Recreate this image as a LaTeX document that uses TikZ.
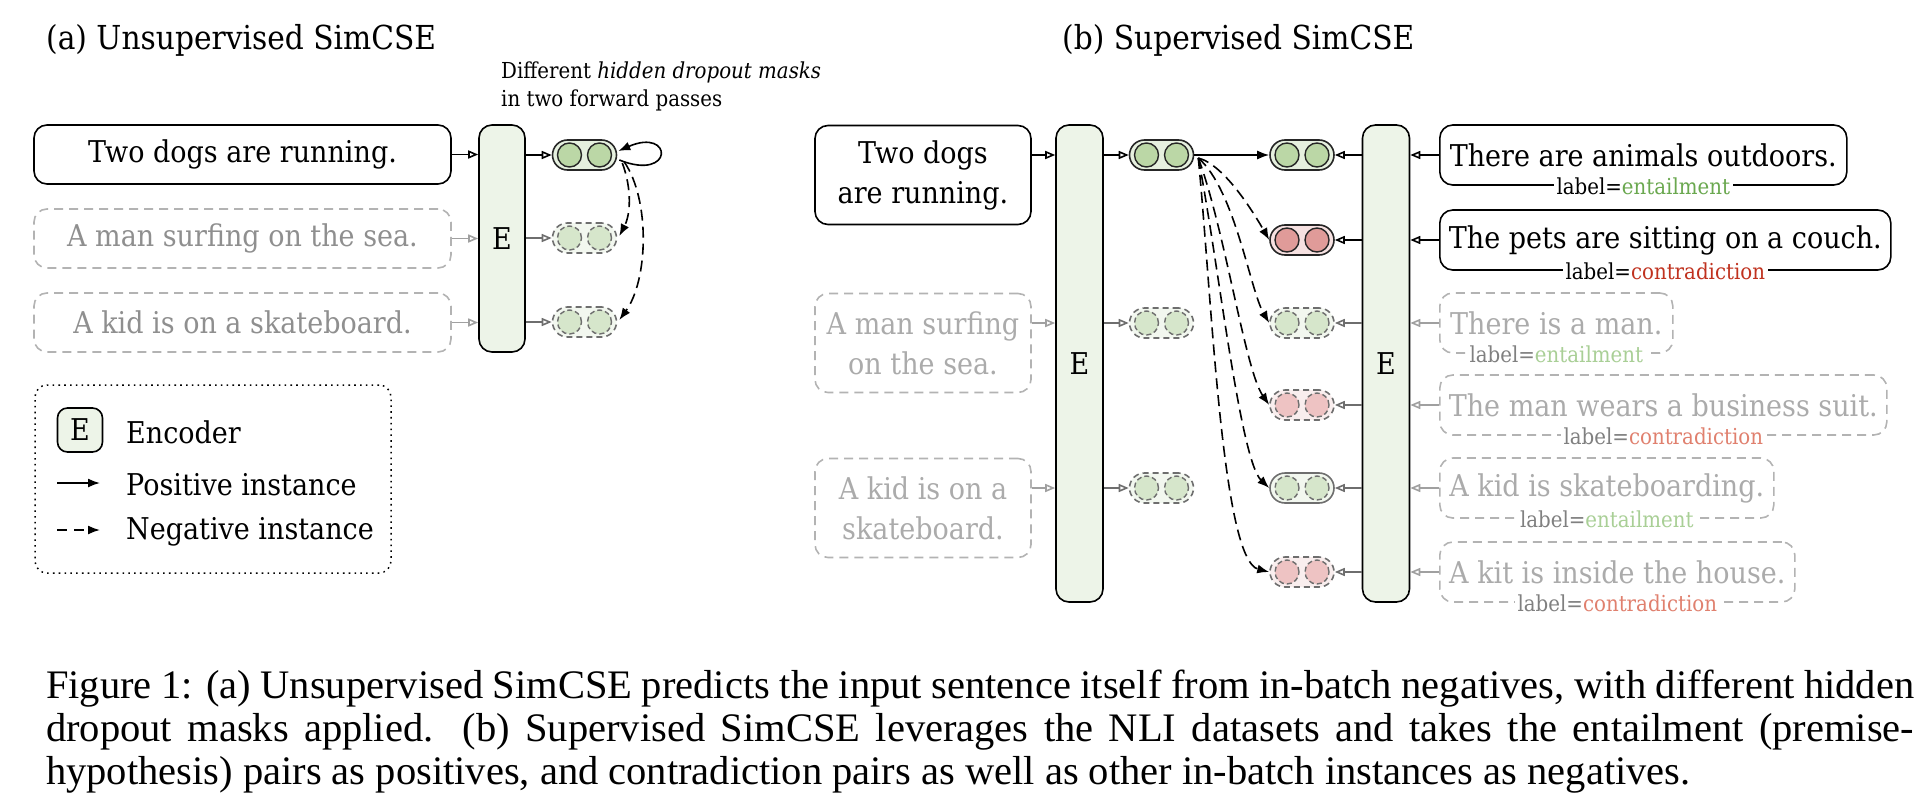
\documentclass[tikz,border=0pt]{standalone}
\usepackage{fontspec}
\setmainfont{Liberation Serif}
\newfontfamily\dfont[FakeStretch=0.9]{DejaVu Serif}
\usetikzlibrary{arrows.meta,calc}

\definecolor{egreen}{HTML}{EDF4E8}
\definecolor{pgreen}{HTML}{E6F0DF}
\definecolor{cgreen}{HTML}{BBD7A6}
\definecolor{pred}{HTML}{F6E1E1}
\definecolor{cred}{HTML}{E09B99}
\definecolor{pgreenl}{HTML}{F2F7EF}
\definecolor{cgreenl}{HTML}{D6E6CB}
\definecolor{predl}{HTML}{F9EEEE}
\definecolor{credl}{HTML}{EEC3C3}
\definecolor{entc}{HTML}{6AA84F}
\definecolor{entl}{HTML}{A9CF96}
\definecolor{conc}{HTML}{C0321F}
\definecolor{conl}{HTML}{E0806E}
\definecolor{gtexta}{HTML}{8F8F8F}
\definecolor{gtextb}{HTML}{ABABAB}
\definecolor{glab}{HTML}{808080}
\definecolor{gbox}{HTML}{B3B3B3}
\definecolor{garr}{HTML}{A0A0A0}
\definecolor{gdark}{HTML}{6E6E6E}

\newcommand\fsent{\dfont\fontsize{30}{40}\selectfont}
\newcommand\flab{\dfont\fontsize{22}{26}\selectfont}
\newcommand\ftitle{\dfont\fontsize{33}{40}\selectfont}
\newcommand\fnote{\dfont\fontsize{22}{28}\selectfont}
\newcommand\fcap{\fontsize{40.5}{43}\selectfont}

\newcommand\pill[5]{%
  \node[pill,#4] (#1) at (#2,#3) {};
  \draw[#5] ($(#1.center)+(-15,0)$) circle (12pt);
  \draw[#5] ($(#1.center)+(15,0)$) circle (12pt);
}

\tikzset{
  sbox/.style={draw, line width=1.6pt, rounded corners=13pt, inner sep=0pt, font=\fsent, align=center},
  offbox/.style={sbox, draw=gbox, dash pattern=on 9pt off 6pt},
  encoder/.style={draw, line width=1.6pt, rounded corners=13pt, fill=egreen, font=\fsent, inner sep=0pt},
  pill/.style={draw, line width=1.6pt, rounded corners=15pt, minimum width=64pt, minimum height=30pt, inner sep=0pt},
  pon/.style={fill=pgreen, draw=black!85},
  pred/.style={fill=pred, draw=black!85},
  poff/.style={fill=pgreenl, draw=gdark, dash pattern=on 6pt off 4pt},
  poffsolid/.style={fill=pgreenl, draw=gdark},
  poffred/.style={fill=predl, draw=gdark, dash pattern=on 6pt off 4pt},
  con/.style={draw=black!85, fill=cgreen, line width=1.4pt},
  cred/.style={draw=black!85, fill=cred, line width=1.4pt},
  coff/.style={draw=gdark, fill=cgreenl, line width=1.4pt, dash pattern=on 5pt off 3pt},
  coffred/.style={draw=gdark, fill=credl, line width=1.4pt, dash pattern=on 5pt off 3pt},
  oarr/.style={-{Triangle[open,length=10pt,width=8pt]}, line width=1.6pt},
  farr/.style={-{Latex[length=12pt,width=9pt]}, line width=1.6pt},
  negarr/.style={farr, dash pattern=on 11pt off 6pt},
  labn/.style={font=\flab, fill=white, inner sep=3pt},
  labo/.style={labn, text=glab},
  txt/.style={inner sep=0pt, font=\fsent},
}

\begin{document}
\begin{tikzpicture}[x=1pt,y=-1pt]
\useasboundingbox (0,0) rectangle (1930,808);

% ---------- titles ----------
\node[anchor=base west, inner sep=0pt, font=\ftitle] (ta) at (46,50) {(a) Unsupervised SimCSE};
\node[anchor=base west, inner sep=0pt, font=\ftitle] (tb) at (1062,50) {(b) Supervised SimCSE};
\node[anchor=north west, inner sep=0pt, align=left, font=\fnote] (note) at (501,62)
  {Different \textit{hidden dropout masks}\\in two forward passes};

% ---------- (a) ----------
\node[sbox, minimum width=417pt, minimum height=59pt] (ab1) at (242.5,154.5) {Two dogs are running.};
\node[offbox, text=gtexta, minimum width=417pt, minimum height=59pt] (ab2) at (242.5,238.5) {A man surfing on the sea.};
\node[offbox, text=gtexta, minimum width=417pt, minimum height=59pt] (ab3) at (242.5,322.5) {A kid is on a skateboard.};
\node[encoder, minimum width=46pt, minimum height=227pt] (Ea) at (502,238.5) {E};
\pill{ap1}{584.5}{155}{pon}{con}
\pill{ap2}{584.5}{238}{poff}{coff}
\pill{ap3}{584.5}{322}{poff}{coff}

\draw[oarr] (ab1.east) -- (Ea.west |- ab1.east);
\draw[oarr, garr] (ab2.east) -- (Ea.west |- ab2.east);
\draw[oarr, garr] (ab3.east) -- (Ea.west |- ab3.east);
\draw[oarr] (Ea.east |- ap1) -- (ap1.west);
\draw[oarr, gdark] (Ea.east |- ap2) -- (ap2.west);
\draw[oarr, gdark] (Ea.east |- ap3) -- (ap3.west);

\draw[farr] ($(ap1.east)+(2,5)$) .. controls +(55,22) and +(55,-24) .. ($(ap1.east)+(1,-4)$);
\draw[negarr] ($(ap1.east)+(5,8)$) .. controls +(10,27) and +(11,-21) .. ($(ap2.east)+(2,-2)$);
\draw[negarr] ($(ap1.east)+(7,7)$) .. controls +(26,38) and +(29,-40) .. ($(ap3.east)+(2,-2)$);

% ---------- legend ----------
\node[draw, line width=1.5pt, dash pattern=on 1.6pt off 4.2pt, rounded corners=12pt,
      minimum width=356pt, minimum height=188pt] (legend) at (213,479) {};
\node[encoder, minimum width=45pt, minimum height=44pt, rounded corners=10pt] (le) at (80,430) {E};
\node[txt, anchor=west] (lenc) at (126,432) {Encoder};
\coordinate (lp1) at (57,483);
\coordinate (lp2) at (100,483);
\draw[farr] (lp1) -- (lp2);
\node[txt, anchor=west] (lpos) at (126,485) {Positive instance};
\coordinate (ln1) at (57,530);
\coordinate (ln2) at (100,530);
\draw[negarr, dash pattern=on 10pt off 7pt] (ln1) -- (ln2);
\node[txt, anchor=west] (lneg) at (126,532) {Negative instance};

% ---------- (b) left ----------
\node[sbox, minimum width=216pt, minimum height=99pt] (bb1) at (923,175) {Two dogs\\are running.};
\node[offbox, text=gtextb, minimum width=216pt, minimum height=99pt] (bb2) at (923,343) {A man surfing\\on the sea.};
\node[offbox, text=gtextb, minimum width=216pt, minimum height=99pt] (bb3) at (923,508) {A kid is on a\\skateboard.};
\node[encoder, minimum width=47pt, minimum height=477pt] (E1) at (1079.5,363.5) {E};
\pill{bp1}{1161.5}{155}{pon}{con}
\pill{bp2}{1161.5}{323}{poff}{coff}
\pill{bp3}{1161.5}{488}{poff}{coff}

\draw[oarr] (bb1.east |- bp1) -- (E1.west |- bp1);
\draw[oarr, garr] (bb2.east |- bp2) -- (E1.west |- bp2);
\draw[oarr, garr] (bb3.east |- bp3) -- (E1.west |- bp3);
\draw[oarr] (E1.east |- bp1) -- (bp1.west);
\draw[oarr, gdark] (E1.east |- bp2) -- (bp2.west);
\draw[oarr, gdark] (E1.east |- bp3) -- (bp3.west);

% ---------- (b) right ----------
\pill{rp1}{1302}{155}{pon}{con}
\pill{rp2}{1302}{240}{pred}{cred}
\pill{rp3}{1302}{323}{poff}{coff}
\pill{rp4}{1302}{405}{poffred}{coffred}
\pill{rp5}{1302}{488}{poffsolid}{coff}
\pill{rp6}{1302}{572}{poffred}{coffred}
\node[encoder, minimum width=47pt, minimum height=477pt] (E2) at (1386,363.5) {E};

\node[sbox, anchor=west, minimum width=407pt, minimum height=60pt] (rb1) at (1439,155) {There are animals outdoors.};
\node[sbox, anchor=west, minimum width=451pt, minimum height=60pt] (rb2) at (1439,240) {The pets are sitting on a couch.};
\node[offbox, text=gtextb, anchor=west, minimum width=233pt, minimum height=60pt] (rb3) at (1439,323) {There is a man.};
\node[offbox, text=gtextb, anchor=west, minimum width=447pt, minimum height=60pt] (rb4) at (1439,405) {The man wears a business suit.};
\node[offbox, text=gtextb, anchor=west, minimum width=334pt, minimum height=60pt] (rb5) at (1439,488) {A kid is skateboarding.};
\node[offbox, text=gtextb, anchor=west, minimum width=355pt, minimum height=60pt] (rb6) at (1439,572) {A kit is inside the house.};

\node[labn] (l1) at (rb1.south) {label=\textcolor{entc}{entailment}};
\node[labn] (l2) at (rb2.south) {label=\textcolor{conc}{contradiction}};
\node[labo] (l3) at (rb3.south) {label=\textcolor{entl}{entailment}};
\node[labo] (l4) at (rb4.south) {label=\textcolor{conl}{contradiction}};
\node[labo] (l5) at (rb5.south) {label=\textcolor{entl}{entailment}};
\node[labo] (l6) at (rb6.south) {label=\textcolor{conl}{contradiction}};

\draw[oarr] (rb1.west) -- (E2.east |- rb1.west);
\draw[oarr] (rb2.west) -- (E2.east |- rb2.west);
\draw[oarr, garr] (rb3.west) -- (E2.east |- rb3.west);
\draw[oarr, garr] (rb4.west) -- (E2.east |- rb4.west);
\draw[oarr, garr] (rb5.west) -- (E2.east |- rb5.west);
\draw[oarr, garr] (rb6.west) -- (E2.east |- rb6.west);
\draw[oarr] (E2.west |- rp1) -- (rp1.east);
\draw[oarr] (E2.west |- rp2) -- (rp2.east);
\draw[oarr, gdark] (E2.west |- rp3) -- (rp3.east);
\draw[oarr, gdark] (E2.west |- rp4) -- (rp4.east);
\draw[oarr, gdark] (E2.west |- rp5) -- (rp5.east);
\draw[oarr, gdark] (E2.west |- rp6) -- (rp6.east);

% positive and negatives
\draw[farr] (bp1.east) -- (rp1.west);
\coordinate (ns) at ($(bp1.east)+(4,3)$);
\draw[negarr] (ns) .. controls (1225,165) and (1255,215) .. (rp2.west);
\draw[negarr] (ns) .. controls (1235,190) and (1250,290) .. (rp3.west);
\draw[negarr] (ns) .. controls (1225,230) and (1245,370) .. (rp4.west);
\draw[negarr] (ns) .. controls (1218,260) and (1240,460) .. (rp5.west);
\draw[negarr] (ns) .. controls (1212,300) and (1222,560) .. (rp6.west);

% ---------- caption ----------
\node[anchor=base west, inner sep=0pt, font=\fcap] (c1) at (46,698)
  {\makebox[1868pt][s]{Figure 1: (a) Unsupervised SimCSE predicts the input sentence itself from in-batch negatives, with different hidden}};
\node[anchor=base west, inner sep=0pt, font=\fcap] (c2) at (46,741)
  {\makebox[1868pt][s]{dropout masks applied. (b) Supervised SimCSE leverages the NLI datasets and takes the entailment (premise-}};
\node[anchor=base west, inner sep=0pt, font=\fcap] (c3) at (46,784)
  {hypothesis) pairs as positives, and contradiction pairs as well as other in-batch instances as negatives.};
\end{tikzpicture}
\end{document}
